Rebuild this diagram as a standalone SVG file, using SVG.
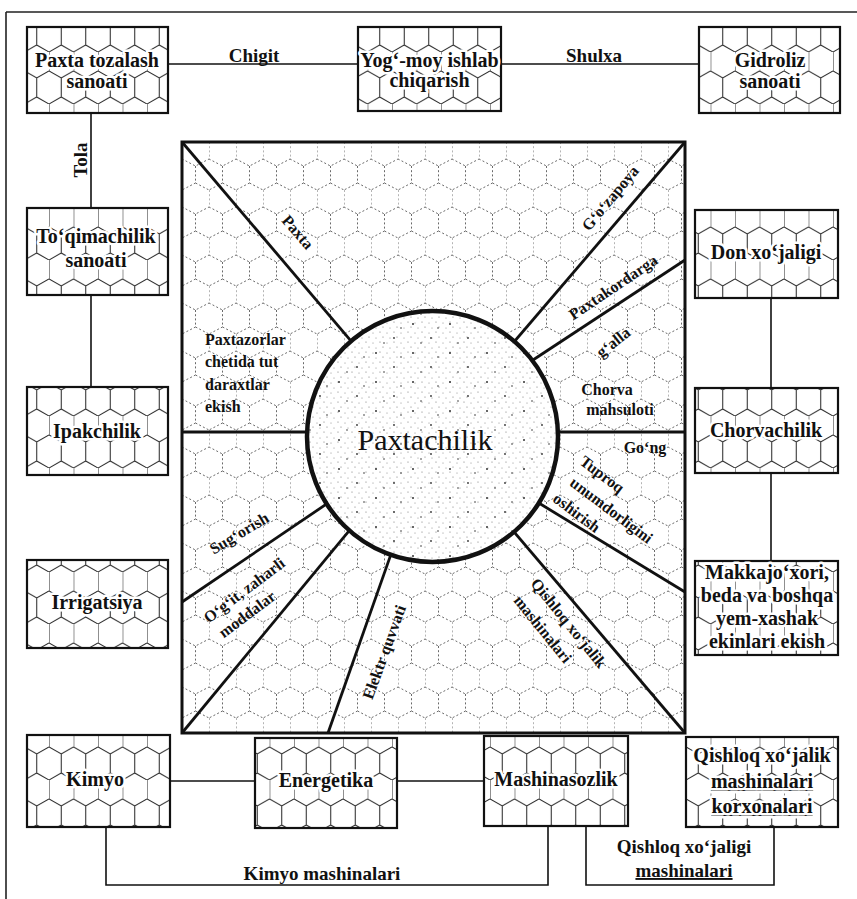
<svg xmlns="http://www.w3.org/2000/svg" width="857" height="899" viewBox="0 0 857 899">
<style>
.frame{stroke:#222;stroke-width:1.6;fill:none}
.box{fill:url(#hex);stroke:#111;stroke-width:2.2}
.bt{font-family:"Liberation Serif","Times New Roman",serif;font-weight:700;font-size:20px;text-anchor:middle;fill:#111;paint-order:stroke;stroke:#fff;stroke-width:5px;stroke-linejoin:round}
.ln{stroke:#111;stroke-width:1.6;fill:none}
.lab{font-family:"Liberation Serif","Times New Roman",serif;font-weight:700;font-size:19px;text-anchor:middle;fill:#111}
.ray{stroke:#111;stroke-width:2.8;fill:none}
.rl{font-family:"Liberation Serif","Times New Roman",serif;font-weight:700;font-size:16px;text-anchor:middle;fill:#111}
.rls{font-family:"Liberation Serif","Times New Roman",serif;font-weight:700;font-size:16px;text-anchor:start;fill:#111}
.u{text-decoration:underline}
</style>
<defs>
<pattern id="hex" width="24.5" height="52" patternUnits="userSpaceOnUse">
<rect width="24.5" height="52" fill="#fff"/>
<path d="M0,0V19L12.25,26L24.5,19M12.25,26V45L0,52M12.25,45L24.5,52" fill="none" stroke="#222" stroke-width="1"/>
</pattern>
<pattern id="hexd" x="182" y="142" width="27" height="48" patternUnits="userSpaceOnUse">
<rect width="27" height="48" fill="#fff"/>
<path d="M0,0V17L13.5,24L27,17M13.5,24V41L0,48M13.5,41L27,48" fill="none" stroke="#6a6a6a" stroke-width="1" stroke-dasharray="2 2.2"/>
</pattern>
<pattern id="dots" width="14" height="10" patternUnits="userSpaceOnUse">
<rect width="14" height="10" fill="#fff"/>
<g fill="#777"><circle cx="2" cy="2" r="0.6"/><circle cx="9" cy="3" r="0.5"/><circle cx="5" cy="7" r="0.6"/><circle cx="12" cy="8" r="0.5"/></g>
</pattern>
<pattern id="dots2" width="37" height="29" patternUnits="userSpaceOnUse">
<g fill="#333"><circle cx="6" cy="5" r="1"/><circle cx="24" cy="19" r="0.9"/><circle cx="31" cy="9" r="0.8"/><circle cx="14" cy="24" r="0.8"/></g>
</pattern>
</defs>

<path class="frame" d="M6,12H857M6,12V899"/>

<g id="connectors">
<path class="ln" d="M168,64H358"/>
<text class="lab" x="254" y="62">Chigit</text>
<path class="ln" d="M501,64H699"/>
<text class="lab" x="594" y="62">Shulxa</text>
<path class="ln" d="M91,113V208"/>
<text class="lab" transform="translate(80,160) rotate(-90)" dy="0.35em">Tola</text>
<path class="ln" d="M91,295V387"/>
<path class="ln" d="M771,298V388"/>
<path class="ln" d="M771,473V561"/>
<path class="ln" d="M170,781H255"/>
<path class="ln" d="M397,781H484"/>
<path class="ln" d="M106,827V885H548V826"/>
<text class="lab" x="322" y="880">Kimyo mashinalari</text>
<path class="ln" d="M586,826V885H774V827"/>
<text class="lab" x="684" y="853">Qishloq xo‘jaligi</text>
<text class="lab u" x="684" y="877">mashinalari</text>
</g>

<g id="paxta-tozalash">
<rect class="box" x="27" y="27" width="141" height="86"/>
<text class="bt" x="97" y="67">Paxta tozalash</text>
<text class="bt" x="97" y="88">sanoati</text>
</g>
<g id="yog-moy">
<rect class="box" x="358" y="27" width="143" height="84"/>
<text class="bt" x="429.5" y="67">Yog‘-moy ishlab</text>
<text class="bt" x="429.5" y="87">chiqarish</text>
</g>
<g id="gidroliz">
<rect class="box" x="699" y="27" width="141" height="86"/>
<text class="bt" x="770" y="67">Gidroliz</text>
<text class="bt" x="770" y="88">sanoati</text>
</g>
<g id="toqimachilik">
<rect class="box" x="27" y="208" width="141" height="87"/>
<text class="bt" x="96" y="243">To‘qimachilik</text>
<text class="bt" x="96" y="267">sanoati</text>
</g>
<g id="ipakchilik">
<rect class="box" x="27" y="387" width="141" height="88"/>
<text class="bt" x="97" y="438">Ipakchilik</text>
</g>
<g id="irrigatsiya">
<rect class="box" x="27" y="560" width="141" height="88"/>
<text class="bt" x="97" y="609">Irrigatsiya</text>
</g>
<g id="kimyo">
<rect class="box" x="27" y="735" width="143" height="92"/>
<text class="bt" x="95" y="786">Kimyo</text>
</g>
<g id="energetika">
<rect class="box" x="255" y="738" width="142" height="90"/>
<text class="bt" x="326" y="787">Energetika</text>
</g>
<g id="mashinasozlik">
<rect class="box" x="484" y="736" width="144" height="90"/>
<text class="bt" x="556" y="786">Mashinasozlik</text>
</g>
<g id="qishloq-korxonalari">
<rect class="box" x="686" y="737" width="152" height="90"/>
<text class="bt" x="762" y="762">Qishloq xo‘jalik</text>
<text class="bt u" x="762" y="788">mashinalari</text>
<text class="bt u" x="762" y="813">korxonalari</text>
</g>
<g id="don">
<rect class="box" x="695" y="210" width="143" height="88"/>
<text class="bt" x="766" y="259">Don xo‘jaligi</text>
</g>
<g id="chorvachilik">
<rect class="box" x="695" y="388" width="143" height="85"/>
<text class="bt" x="766" y="437">Chorvachilik</text>
</g>
<g id="makkajoxori">
<rect class="box" x="695" y="561" width="143" height="94"/>
<text class="bt" x="767" y="579">Makkajo‘xori,</text>
<text class="bt" x="767" y="602">beda va boshqa</text>
<text class="bt" x="767" y="625">yem-xashak</text>
<text class="bt" x="767" y="648">ekinlari ekish</text>
</g>

<g id="paxtachilik-field">
<rect x="182" y="142" width="503" height="591" fill="url(#hexd)" stroke="#111" stroke-width="3"/>
<g id="rays">
<path class="ray" d="M182,142L357.5,348.6"/>
<path class="ray" d="M685,142L507.5,349.6"/>
<path class="ray" d="M685,260L524.6,365.5"/>
<path class="ray" d="M685,432L548,432"/>
<path class="ray" d="M685,592L533.5,499.8"/>
<path class="ray" d="M685,733L508.5,525.4"/>
<path class="ray" d="M328,733L393.3,547.6"/>
<path class="ray" d="M182,733L354.4,524.3"/>
<path class="ray" d="M182,602L333.3,499.4"/>
<path class="ray" d="M182,432L317,432"/>
</g>
<text class="rl" transform="translate(298,232) rotate(49)" dy="0.35em">Paxta</text>
<text class="rls" x="205" y="345">Paxtazorlar</text>
<text class="rls" x="205" y="367">chetida tut</text>
<text class="rls" x="205" y="390">daraxtlar</text>
<text class="rls" x="205" y="412">ekish</text>
<text class="rl" transform="translate(610,198) rotate(-50)" dy="0.35em">G‘o‘zapoya</text>
<text class="rl" transform="translate(613,287) rotate(-34)" dy="0.35em">Paxtakordarga</text>
<text class="rl" transform="translate(613,342) rotate(-38)" dy="0.35em">g‘alla</text>
<text class="rl" x="607" y="395">Chorva</text>
<text class="rl" x="620" y="415">mahsuloti</text>
<text class="rl" x="645" y="453">Go‘ng</text>
<g transform="translate(602,474) rotate(37)">
<text class="rls" x="-25" y="0" dy="0.35em">Tuproq</text>
<text class="rls" x="-20" y="23" dy="0.35em">unumdorligini</text>
<text class="rls" x="-24" y="46" dy="0.35em">oshirish</text>
</g>
<text class="rl" transform="translate(239,533) rotate(-31)" dy="0.35em">Sug‘orish</text>
<text class="rl" transform="translate(244,590) rotate(-37)" dy="0.35em">O‘g‘it, zaharli</text>
<text class="rl" transform="translate(247,614) rotate(-37)" dy="0.35em">moddalar</text>
<text class="rl" transform="translate(384,652) rotate(-70)" dy="0.35em">Elektr quvvati</text>
<text class="rl" transform="translate(569,623) rotate(51)" dy="0.35em">Qishloq xo‘jalik</text>
<text class="rl" transform="translate(543,629) rotate(51)" dy="0.35em">mashinalari</text>
</g>

<g id="paxtachilik">
<circle cx="432.5" cy="436.5" r="125.5" fill="url(#dots)"/>
<circle cx="432.5" cy="436.5" r="125.5" fill="url(#dots2)"/>
<circle cx="432.5" cy="436.5" r="125.5" fill="none" stroke="#111" stroke-width="4.5"/>
<text x="425" y="450" font-family="'Liberation Serif','Times New Roman',serif" font-size="30" text-anchor="middle" fill="#111">Paxtachilik</text>
</g>
</svg>
